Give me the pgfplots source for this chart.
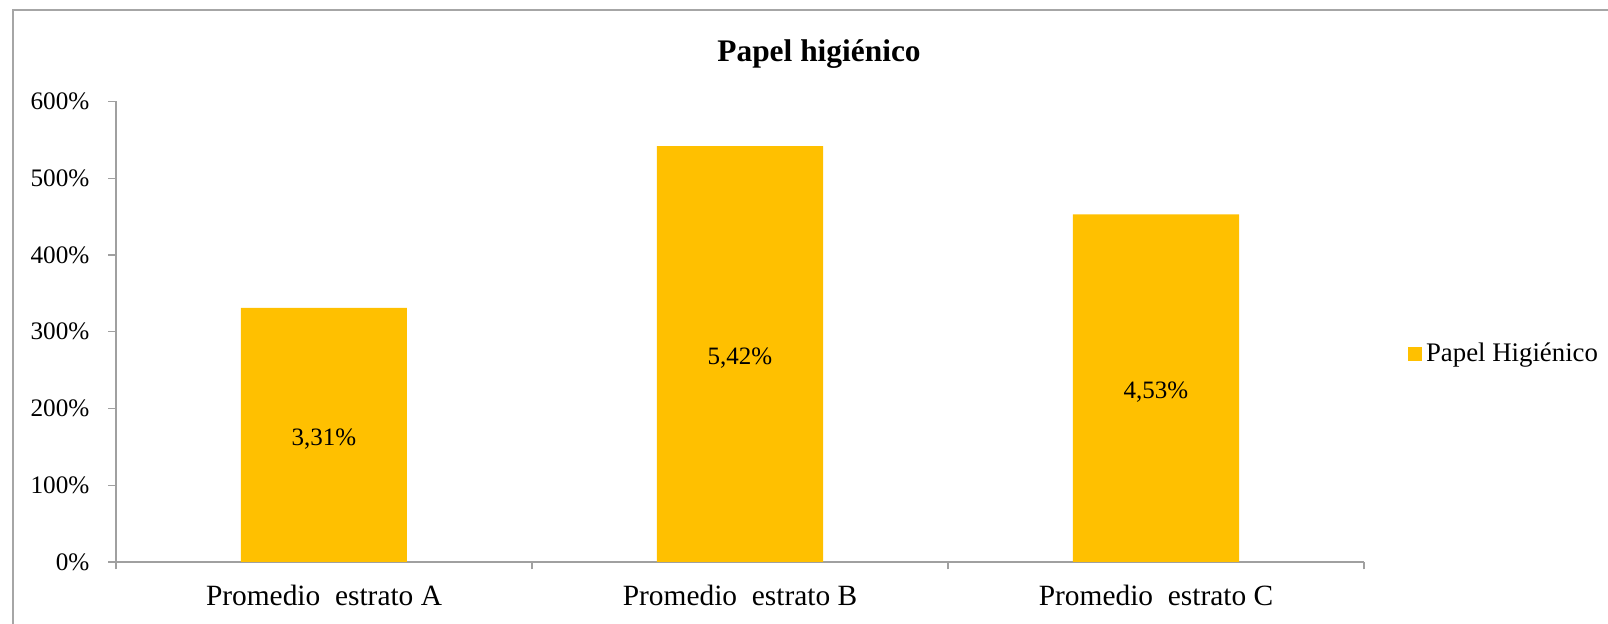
\documentclass[border=0pt]{standalone}
\usepackage{fontspec}
\setmainfont{Liberation Serif}
\usepackage{pgfplots}
\pgfplotsset{compat=1.18}
\definecolor{barc}{HTML}{FFC000}
\definecolor{axc}{HTML}{A0A0A0}
\definecolor{frc}{HTML}{A6A6A6}
\begin{document}
\begin{tikzpicture}
\useasboundingbox (0,0) rectangle (804pt,312pt);
\draw[frc, line width=0.7pt] (6.5pt,-5pt) -- (6.5pt,307pt) -- (810pt,307pt);
\node[anchor=base, font=\fontsize{15.7pt}{18pt}\selectfont\bfseries] at (409.5pt,281pt) {Papel higiénico};
\begin{axis}[
  at={(58pt,31pt)}, anchor=south west,
  scale only axis, width=624pt, height=230.25pt,
  xmin=-0.5, xmax=2.5, ymin=0, ymax=600,
  axis x line*=bottom, axis y line*=left,
  axis line style={axc, line width=0.7pt},
  ytick={0,100,...,600},
  yticklabel={\pgfmathprintnumber{\tick}\%},
  /pgf/number format/assume math mode=true,
  tick align=outside,
  major tick length=3.75pt,
  tick style={axc, line width=0.7pt},
  y tick label style={font=\fontsize{12.6pt}{14pt}\selectfont, xshift=-6pt},
  xtick={-0.5,0.5,1.5,2.5},
  xticklabels={},
  extra x ticks={0,1,2},
  extra x tick labels={Promedio\ \ estrato A, Promedio\ \ estrato B, Promedio\ \ estrato C},
  extra x tick style={major tick length=0pt, tick label style={font=\fontsize{14.7pt}{17pt}\selectfont, yshift=-8pt}},
  ybar, bar width=83pt,
  nodes near coords,
  point meta=explicit symbolic,
  visualization depends on={y \as \rawy},
  every node near coord/.append style={anchor=center, font=\fontsize{12.5pt}{14pt}\selectfont, text=black, yshift={-0.191875pt*\rawy-2pt}},
  legend style={at={(1.035,0.452)}, anchor=west, draw=none, fill=none, font=\fontsize{13.4pt}{15pt}\selectfont, inner sep=0pt},
  legend image code/.code={\fill[#1] (0pt,-3.5pt) rectangle (7pt,3.5pt);},
]
\addplot[fill=barc, draw=none] coordinates {(0,331) [3,31\%] (1,542) [5,42\%] (2,453) [4,53\%]};
\addlegendentry{Papel Higiénico}
\end{axis}
\end{tikzpicture}
\end{document}
